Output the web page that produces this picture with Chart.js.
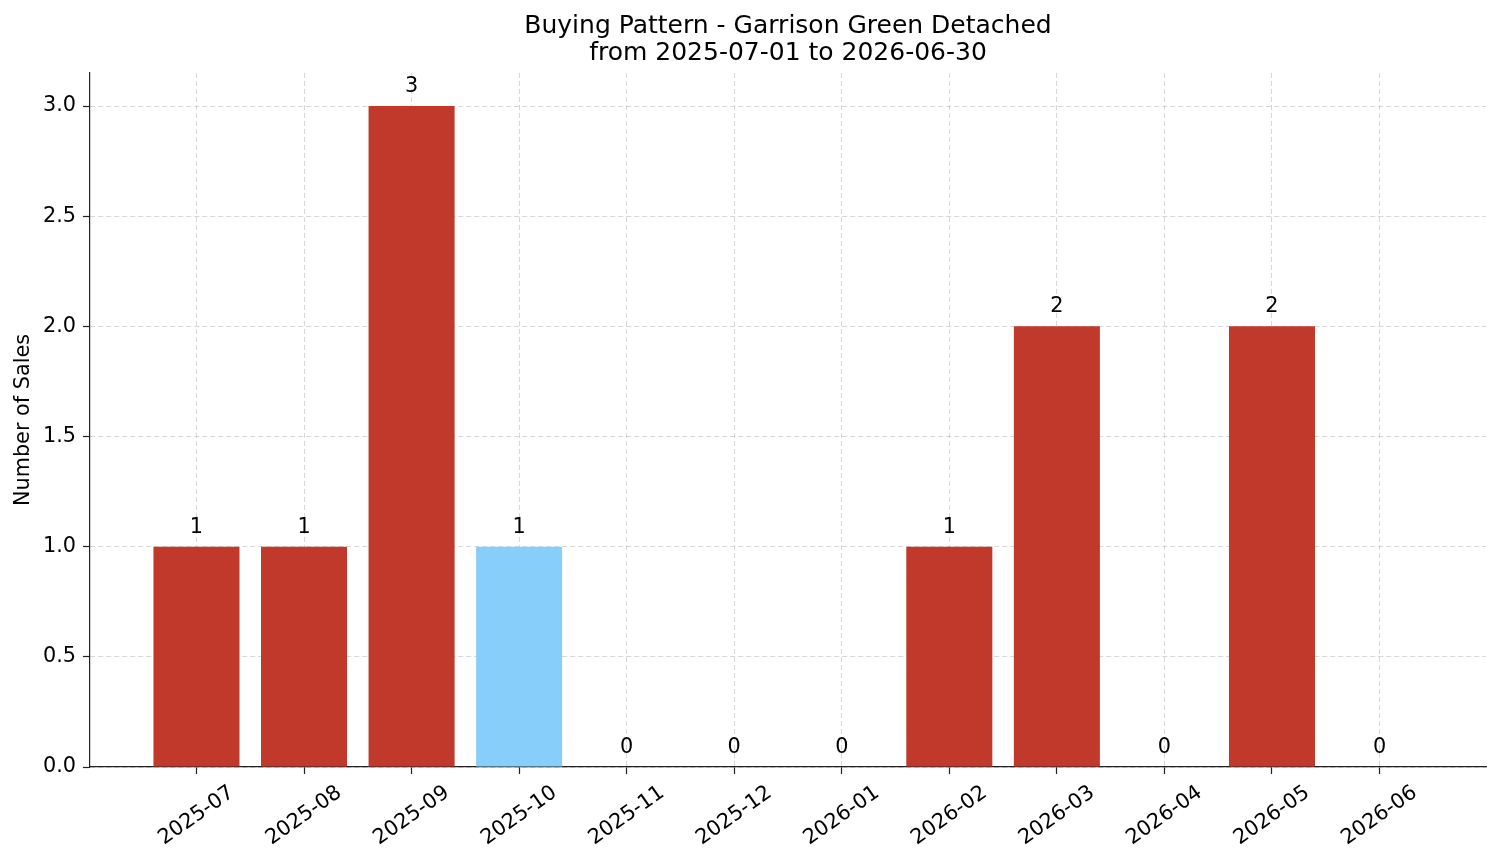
<!DOCTYPE html>
<html>
<head>
<meta charset="utf-8">
<script src="https://cdn.jsdelivr.net/npm/chart.js@4/dist/chart.umd.min.js"></script>
<style>
  body { margin: 0; background: #fff; }
</style>
</head>
<body>
<canvas id="myChart" width="1501" height="863"></canvas>
<script>
// data
const months = ["2025-07", "2025-08", "2025-09", "2025-10", "2025-11", "2025-12",
                "2026-01", "2026-02", "2026-03", "2026-04", "2026-05", "2026-06"];
const sales = [1, 1, 3, 1, 0, 0, 0, 1, 2, 0, 2, 0];
const highlight = [false, false, false, true, false, false, false, false, false, false, false, false];
const yTicks = [0, 0.5, 1, 1.5, 2, 2.5, 3];
const titleLines = ['Buying Pattern - Garrison Green Detached', 'from 2025-07-01 to 2026-06-30'];

const RED = '#c0392b';
const BLUE = '#87cefa';
const FONT = 'DejaVu Sans';
const gridColor = 'rgba(176,176,176,0.5)';

// value labels on top of bars
const barLabels = {
    id: 'barLabels',
    afterDatasetsDraw(chart) {
        const ctx = chart.ctx;
        const meta = chart.getDatasetMeta(0);
        ctx.save();
        ctx.font = '20.8px "' + FONT + '"';
        ctx.fillStyle = '#000';
        ctx.textAlign = 'center';
        ctx.textBaseline = 'alphabetic';
        meta.data.forEach((bar, i) => {
            ctx.fillText(String(sales[i]), bar.x, chart.scales.y.getPixelForValue(sales[i]) - 14);
        });
        ctx.restore();
    }
};

// rotated x tick labels, centred under the tick like matplotlib,
// and the title centred over the plot area
const xLabels = {
    id: 'xLabels',
    afterDraw(chart) {
        const ctx = chart.ctx;
        const xs = chart.scales.x;
        const area = chart.chartArea;
        const top = area.bottom + 7 + 7;
        const ang = 35 * Math.PI / 180;
        ctx.save();
        ctx.font = '20.8px "' + FONT + '"';
        ctx.fillStyle = '#000';
        ctx.textAlign = 'center';
        ctx.textBaseline = 'middle';
        months.forEach((m, i) => {
            const w = ctx.measureText(m).width;
            const h = 24;
            const H = w * Math.sin(ang) + h * Math.cos(ang);
            ctx.save();
            ctx.translate(xs.getPixelForValue(i), top + H / 2);
            ctx.rotate(-ang);
            ctx.fillText(m, 0, 0);
            ctx.restore();
        });

        ctx.font = '25px "' + FONT + '"';
        ctx.textBaseline = 'alphabetic';
        const cx = (area.left + area.right) / 2;
        ctx.fillText(titleLines[0], cx, 33);
        ctx.fillText(titleLines[1], cx, 60);
        ctx.restore();
    }
};

const ctx = document.getElementById('myChart').getContext('2d');
const myChart = new Chart(ctx, {
    type: 'bar',
    data: {
        datasets: [{
            data: sales.map((v, i) => ({ x: i, y: v })),
            backgroundColor: highlight.map(h => h ? BLUE : RED),
            borderWidth: 0,
            barPercentage: 0.8,
            categoryPercentage: 1.0
        }]
    },
    options: {
        responsive: false,
        animation: false,
        devicePixelRatio: 1,
        layout: { padding: { left: 0, right: 15, top: 73, bottom: 0 } },
        plugins: {
            legend: { display: false },
            tooltip: { enabled: false },
            title: { display: false }
        },
        scales: {
            x: {
                type: 'linear',
                min: -0.99,
                max: 11.99,
                offset: false,
                z: 1,
                ticks: { display: false, stepSize: 1, includeBounds: false },
                grid: {
                    offset: false,
                    color: gridColor,
                    lineWidth: 1,
                    drawTicks: true,
                    tickLength: 7,
                    tickColor: '#222',
                    tickWidth: 1.2,
                    tickBorderDash: []
                },
                border: { display: true, color: '#222', width: 1.2, dash: [5, 3] },
                afterFit(scale) { scale.height = 96; }
            },
            y: {
                min: 0,
                max: 3.15,
                z: 1,
                afterBuildTicks(scale) { scale.ticks = yTicks.map(v => ({ value: v })); },
                ticks: {
                    color: '#000',
                    padding: 7,
                    font: { family: FONT, size: 20.8 },
                    callback: v => v.toFixed(1)
                },
                title: {
                    display: true,
                    text: 'Number of Sales',
                    color: '#000',
                    font: { family: FONT, size: 20.8 },
                    padding: { top: 11, bottom: 0 }
                },
                grid: {
                    color: gridColor,
                    lineWidth: 1,
                    tickLength: 7,
                    tickColor: '#222',
                    tickWidth: 1.2,
                    tickBorderDash: []
                },
                border: { display: true, color: '#222', width: 1.2, dash: [5, 3] },
                afterFit(scale) { scale.width = 90; }
            }
        }
    },
    plugins: [barLabels, xLabels]
});
</script>
</body>
</html>
